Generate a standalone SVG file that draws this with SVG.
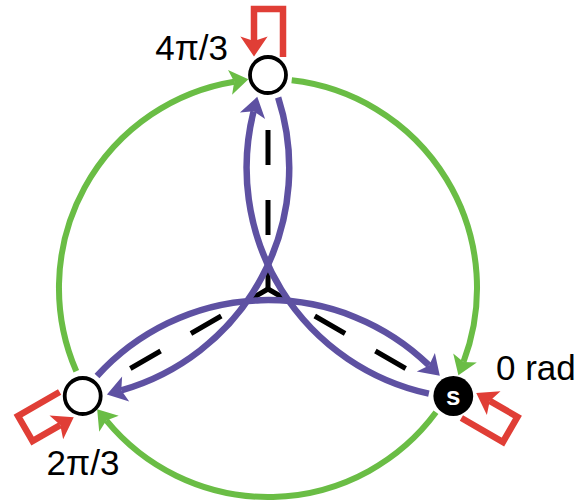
<svg xmlns="http://www.w3.org/2000/svg" width="585" height="501" viewBox="0 0 585 501">
<style>
.g{fill:none;stroke:#6abd45;stroke-width:6;marker-end:url(#mg)}
.p{fill:none;stroke:#5e51a2;stroke-width:6.5;marker-end:url(#mp)}
.r{fill:none;stroke:#e03e36;stroke-width:6.5;stroke-linejoin:miter;marker-end:url(#mr)}
.d{fill:none;stroke:#000;stroke-width:5;stroke-dasharray:35 35;stroke-dashoffset:16}
.n{fill:#fff;stroke:#000;stroke-width:3.8}
.lbl{font-family:"Liberation Sans",Arial,sans-serif;font-size:35px;fill:#000}
</style>
<defs>
<marker id="mg" markerUnits="strokeWidth" orient="auto" refX="0" refY="0" overflow="visible"><path d="M2.4,0 L-0.7,-2.1 L0,0 L-0.7,2.1 Z" fill="#6abd45"/></marker>
<marker id="mp" markerUnits="strokeWidth" orient="auto" refX="0" refY="0" overflow="visible"><path d="M2.3,0 L-0.7,-2 L0,0 L-0.7,2 Z" fill="#5e51a2"/></marker>
<marker id="mr" markerUnits="strokeWidth" orient="auto" refX="0" refY="0" overflow="visible"><path d="M2.4,0 L-0.7,-2.1 L0,0 L-0.7,2.1 Z" fill="#e03e36"/></marker>
</defs>
<g id="connectors">
<path class="g" d="M76.3,371.3 A209,209 0 0 1 234.2,81.7"/>
<path class="g" d="M291.7,80.3 A209,209 0 0 1 463.5,361.9"/>
<path class="g" d="M436,412.3 A209,209 0 0 1 106.3,420.4"/>
<path class="r" d="M15,-18 V-66 H-14 V-34" transform="translate(268,75)"/>
<path class="r" d="M15,-18 V-66 H-14 V-34" transform="translate(82.7,396) rotate(-120)"/>
<path class="r" d="M15,-18 V-66 H-14 V-34" transform="translate(453.3,396) rotate(120)"/>
<path class="d" d="M268,289 L268,99"/>
<path class="d" d="M268,289 L103.5,384"/>
<path class="d" d="M268,289 L432.5,384"/>
<path class="p" d="M97,376 A231,231 0 0 1 429.1,365.4"/>
<path class="p" d="M97,376 A231,231 0 0 1 429.1,365.4" transform="rotate(120 268 289)"/>
<path class="p" d="M97,376 A231,231 0 0 1 429.1,365.4" transform="rotate(240 268 289)"/>
</g>
<g id="node-top">
<circle class="n" cx="268" cy="75" r="18"/>
<text class="lbl" x="228" y="60" text-anchor="end">4π/3</text>
</g>
<g id="node-left">
<circle class="n" cx="82.7" cy="396" r="18"/>
<text class="lbl" x="83" y="475" text-anchor="middle">2π/3</text>
</g>
<g id="node-s">
<circle cx="453.3" cy="396" r="19.9" fill="#000"/>
<text x="453.3" y="405" text-anchor="middle" font-family="'Liberation Sans',Arial,sans-serif" font-weight="bold" font-size="26" fill="#fff">s</text>
<text class="lbl" x="496" y="380">0 rad</text>
</g>
</svg>
